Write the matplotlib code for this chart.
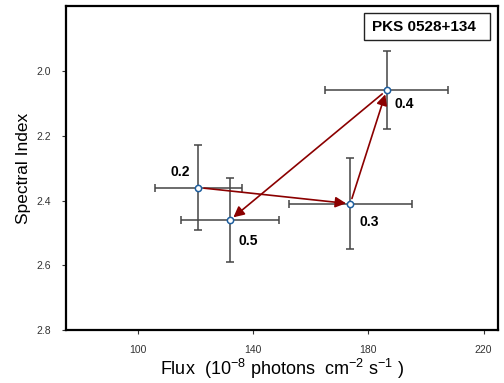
import matplotlib.pyplot as plt
from matplotlib.patches import Rectangle

plt.rcParams['font.family'] = ['Liberation Sans', 'DejaVu Sans']
plt.rcParams['mathtext.default'] = 'regular'

# data
labels = ["0.2", "0.3", "0.4", "0.5"]
flux = [121.0, 173.7, 186.3, 132.0]
flux_err = [15.0, 21.4, 21.5, 17.0]
index = [2.36, 2.41, 2.06, 2.46]
index_err = [0.13, 0.14, 0.12, 0.13]
order = [0, 1, 2, 3]  # sequence the arrows follow

# label offsets (points)
label_off = [(-13.5, 11), (14, -13), (13, -9.5), (13, -15)]

fig = plt.figure(figsize=(5.04, 3.83), dpi=100)
ax = fig.add_axes([0.131, 0.138, 0.857, 0.846])

ax.errorbar(flux, index, xerr=flux_err, yerr=index_err, fmt='none',
            ecolor='#444444', elinewidth=1.1, capsize=3, capthick=1.1, zorder=2)

for i in range(len(order) - 1):
    a, b = order[i], order[i + 1]
    ax.annotate("", xy=(flux[b], index[b]), xytext=(flux[a], index[a]),
                arrowprops=dict(arrowstyle='-|>', color='#8b0000', lw=1.2,
                                mutation_scale=16, shrinkA=4, shrinkB=3),
                zorder=3)

ax.plot(flux, index, 'o', ms=4.5, mfc='white', mec='#1f5f9f', mew=1.1, zorder=4)

for x, y, t, off in zip(flux, index, labels, label_off):
    ax.annotate(t, (x, y), xytext=off, textcoords='offset points',
                ha='center', va='center', fontsize=10, fontweight='bold')

# source name box
ax.add_patch(Rectangle((0.690, 0.895), 0.291, 0.083, transform=ax.transAxes,
                       fc='white', ec='#222222', lw=1.0, zorder=5))
ax.text(0.708, 0.937, "PKS 0528+134", transform=ax.transAxes, ha='left', va='center',
        fontsize=11, fontweight='bold', zorder=6)

ax.set_xlim(75, 225)
ax.set_ylim(2.8, 1.8)
ax.set_xticks([100, 140, 180, 220])
ax.set_yticks([2.0, 2.2, 2.4, 2.6, 2.8])
ax.set_yticklabels(["2.0", "2.2", "2.4", "2.6", "2.8"])
ax.tick_params(labelsize=7.5, length=3, width=0.8, colors='#333333', pad=8)

for s in ax.spines.values():
    s.set_linewidth(1.6)

ax.set_ylabel("Spectral Index", fontsize=12.5)
ax.set_xlabel("Flux  (10$^{-8}$ photons  cm$^{-2}$ s$^{-1}$ )", fontsize=13, labelpad=1)

fig.savefig("out.png", dpi=100)
